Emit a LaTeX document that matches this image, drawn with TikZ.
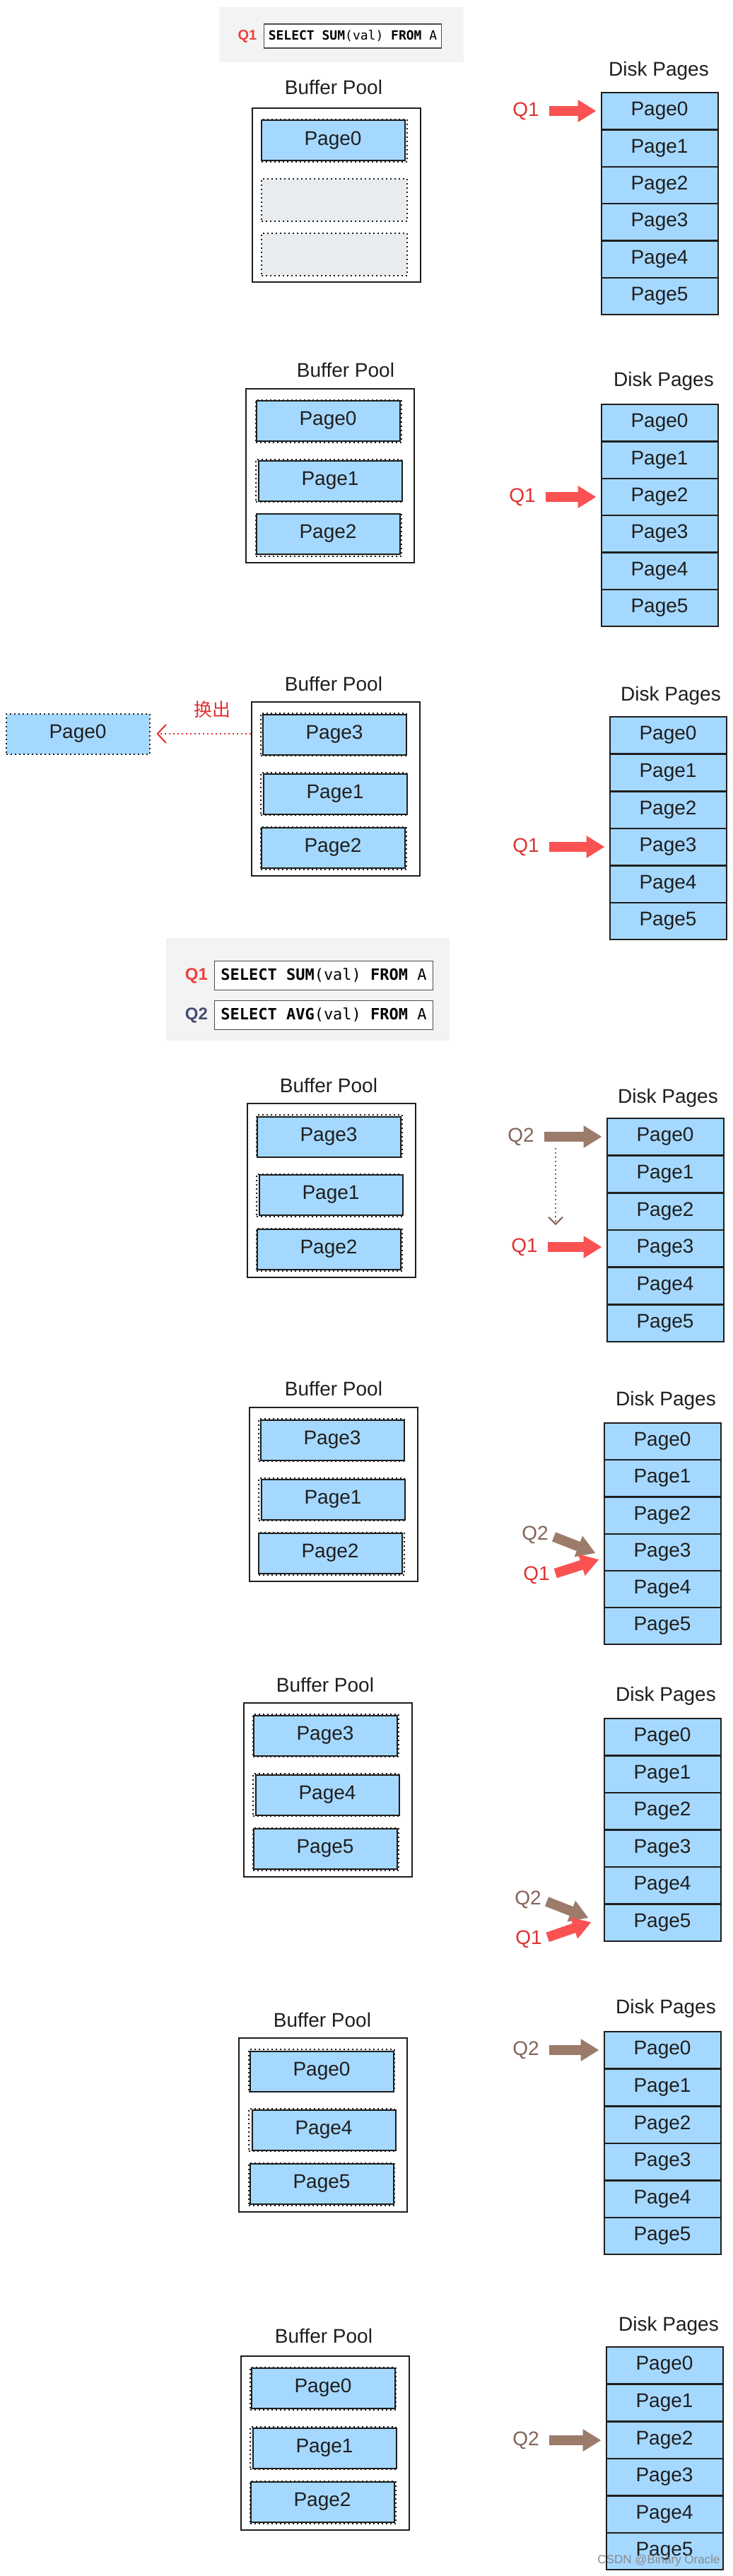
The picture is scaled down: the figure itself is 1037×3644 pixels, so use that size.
\documentclass[tikz,border=0pt]{standalone}
\usepackage{fontspec}
\setmainfont{Liberation Sans}
\newfontfamily\sqlfont{DejaVu Sans Mono}
\newfontfamily\cjk{Noto Sans CJK SC}
\usetikzlibrary{arrows.meta,calc}
\definecolor{ink}{HTML}{1E1E1E}
\definecolor{pageblue}{HTML}{A5D8FF}
\definecolor{slotgray}{HTML}{E9ECEF}
\definecolor{qred}{HTML}{E03131}
\definecolor{qredfill}{HTML}{FA5252}
\definecolor{qbrown}{HTML}{846358}
\definecolor{qbrownfill}{HTML}{9C7B6B}
\definecolor{sqlbg}{HTML}{F3F3F3}
\definecolor{sqlred}{HTML}{F03E3E}
\definecolor{sqlslate}{HTML}{454C73}
\definecolor{wmgray}{HTML}{8A8A8A}
\tikzset{
  pooltitle/.style={text=ink, font=\fontsize{14}{16}\selectfont, inner sep=0pt},
  pool/.style={draw=ink, line width=0.8pt, fill=white, minimum width=119pt, minimum height=123pt, inner sep=0pt},
  slotbox/.style={draw=ink, line width=1pt, dash pattern=on 1pt off 2pt, fill=slotgray, minimum width=103pt, minimum height=30pt, inner sep=0pt},
  pagebox/.style={draw=ink, line width=1pt, fill=pageblue, minimum width=101.5pt, minimum height=28.5pt, inner sep=0pt, text=ink, font=\fontsize{14}{16}\selectfont},
  diskcell/.style={draw=ink, line width=1pt, fill=pageblue, minimum width=82.5pt, minimum height=26.25pt, inner sep=0pt, text=ink, font=\fontsize{14}{16}\selectfont},
  qone/.style={text=qred, font=\fontsize{14}{16}\selectfont, inner sep=0pt},
  qtwo/.style={text=qbrown, font=\fontsize{14}{16}\selectfont, inner sep=0pt},
  fat/.style={line width=7pt, -{Triangle[length=13pt,width=15pt]}, shorten <=7pt, shorten >=3pt},
  onearrow/.style={fat, draw=qredfill},
  twoarrow/.style={fat, draw=qbrownfill},
  slant/.style={shorten <=4pt, shorten >=0pt},
  evict/.style={draw=qred, line width=1pt, dash pattern=on 1pt off 2pt, -{Straight Barb[length=6pt,width=13pt]}, shorten >=4.5pt},
  follow/.style={draw=qbrown, line width=1pt, dash pattern=on 1pt off 2pt, -{Straight Barb[length=5pt,width=10pt]}},
  sqlbox/.style={draw=black!70, line width=0.7pt, fill=white, inner xsep=3pt, inner ysep=0pt, minimum height=17pt, text=black, font=\sqlfont\fontsize{9}{10}\selectfont},
  sqlboxbig/.style={sqlbox, inner xsep=4.4pt, minimum height=20.5pt, font=\sqlfont\fontsize{11}{12}\selectfont},
  sqllabel/.style={inner sep=0pt, font=\bfseries\fontsize{10}{12}\selectfont},
  wmark/.style={text=wmgray, inner sep=0pt, font=\fontsize{8.5}{10}\selectfont}
}
\begin{document}
\begin{tikzpicture}[x=0.5pt,y=-0.5pt]
  \useasboundingbox (0,0) rectangle (1037,3644);
  % query Q1
  \fill[sqlbg] (310,10) rectangle (656,88);
  \node[sqllabel, text=sqlred] (s1q) at (350,51) {Q1};
  \node[sqlbox] (s1) at (499,51) {\textbf{SELECT SUM}(val) \textbf{FROM} A};

  % step 1
  \node[pooltitle] (bpt1) at (472,123) {Buffer Pool};
  \node[pool] (bp1) at (476,276) {};
  \node[slotbox] (s1a) at (473,199) {};
  \node[slotbox] (s1b) at (473,283) {};
  \node[slotbox] (s1c) at (473,360) {};
  \node[pagebox] (p1a) at (471,199) {Page0};
  \node[pooltitle] (dpt1) at (932,100) {Disk Pages};
  \node[diskcell] (d1p0) at (933,157) {Page0};
  \node[diskcell] (d1p1) at (933,210) {Page1};
  \node[diskcell] (d1p2) at (933,262) {Page2};
  \node[diskcell] (d1p3) at (933,314) {Page3};
  \node[diskcell] (d1p4) at (933,367) {Page4};
  \node[diskcell] (d1p5) at (933,419) {Page5};
  \node[qone] (q1one) at (744,157) {Q1};
  \draw[onearrow] (q1one.east) -- (q1one.east -| d1p0.west);

  % step 2
  \node[pooltitle] (bpt2) at (489,523) {Buffer Pool};
  \node[pool] (bp2) at (467,673) {};
  \node[slotbox] (s2a) at (465,596) {};
  \node[slotbox] (s2b) at (465,680) {};
  \node[slotbox] (s2c) at (465,757) {};
  \node[pagebox] (p2a) at (464,595) {Page0};
  \node[pagebox] (p2b) at (467,680) {Page1};
  \node[pagebox] (p2c) at (464,755) {Page2};
  \node[pooltitle] (dpt2) at (939,539) {Disk Pages};
  \node[diskcell] (d2p0) at (933,598) {Page0};
  \node[diskcell] (d2p1) at (933,651) {Page1};
  \node[diskcell] (d2p2) at (933,703) {Page2};
  \node[diskcell] (d2p3) at (933,755) {Page3};
  \node[diskcell] (d2p4) at (933,808) {Page4};
  \node[diskcell] (d2p5) at (933,860) {Page5};
  \node[qone] (q2one) at (739,703) {Q1};
  \draw[onearrow] (q2one.east) -- (q2one.east -| d2p2.west);

  % step 3
  \node[pagebox, dash pattern=on 1pt off 2pt] (ev) at (110,1038) {Page0};
  \node[pooltitle] (bpt3) at (472,967) {Buffer Pool};
  \node[pool] (bp3) at (475,1116) {};
  \node[slotbox] (s3a) at (472,1039) {};
  \node[slotbox] (s3b) at (472,1123) {};
  \node[slotbox] (s3c) at (472,1200) {};
  \node[pagebox] (p3a) at (473,1039) {Page3};
  \node[pagebox] (p3b) at (474,1123) {Page1};
  \node[pagebox] (p3c) at (471,1199) {Page2};
  \node[text=qred, inner sep=0pt, font=\cjk\fontsize{13}{15}\selectfont] (out3) at (300,1004) {换出};
  \draw[evict] (bp3.west |- ev.east) -- (ev.east);
  \node[pooltitle] (dpt3) at (949,984) {Disk Pages};
  \node[diskcell] (d3p0) at (945,1040) {Page0};
  \node[diskcell] (d3p1) at (945,1093) {Page1};
  \node[diskcell] (d3p2) at (945,1146) {Page2};
  \node[diskcell] (d3p3) at (945,1198) {Page3};
  \node[diskcell] (d3p4) at (945,1251) {Page4};
  \node[diskcell] (d3p5) at (945,1303) {Page5};
  \node[qone] (q3one) at (744,1198) {Q1};
  \draw[onearrow] (q3one.east) -- (q3one.east -| d3p3.west);

  % queries Q1 and Q2
  \fill[sqlbg] (235,1327) rectangle (636,1472);
  \node[sqllabel, text=sqlred, font=\bfseries\fontsize{12}{14}\selectfont] (s4q) at (278,1380) {Q1};
  \node[sqlboxbig] (s4) at (458,1380) {\textbf{SELECT SUM}(val) \textbf{FROM} A};
  \node[sqllabel, text=sqlslate, font=\bfseries\fontsize{12}{14}\selectfont] (s5q) at (278,1436) {Q2};
  \node[sqlboxbig] (s5) at (458,1436) {\textbf{SELECT AVG}(val) \textbf{FROM} A};

  % step 4
  \node[pooltitle] (bpt4) at (465,1535) {Buffer Pool};
  \node[pool] (bp4) at (469,1684) {};
  \node[slotbox] (s4a) at (466,1607) {};
  \node[slotbox] (s4b) at (466,1691) {};
  \node[slotbox] (s4c) at (466,1768) {};
  \node[pagebox] (p4a) at (465,1608) {Page3};
  \node[pagebox] (p4b) at (468,1690) {Page1};
  \node[pagebox] (p4c) at (465,1767) {Page2};
  \node[pooltitle] (dpt4) at (945,1553) {Disk Pages};
  \node[diskcell] (d4p0) at (941,1608) {Page0};
  \node[diskcell] (d4p1) at (941,1661) {Page1};
  \node[diskcell] (d4p2) at (941,1714) {Page2};
  \node[diskcell] (d4p3) at (941,1766) {Page3};
  \node[diskcell] (d4p4) at (941,1819) {Page4};
  \node[diskcell] (d4p5) at (941,1872) {Page5};
  \node[qtwo] (q4two) at (737,1608) {Q2};
  \node[qone] (q4one) at (742,1764) {Q1};
  \draw[twoarrow] (q4two.east) -- (q4two.east -| d4p0.west);
  \draw[onearrow] (q4one.east) -- (q4one.east -| d4p3.west);
  \coordinate (m4a) at (786,1624);
  \coordinate (m4b) at (786,1733);
  \draw[follow] (m4a) -- (m4b);

  % step 5
  \node[pooltitle] (bpt5) at (472,1964) {Buffer Pool};
  \node[pool] (bp5) at (472,2114) {};
  \node[slotbox] (s5a) at (469,2037) {};
  \node[slotbox] (s5b) at (469,2121) {};
  \node[slotbox] (s5c) at (469,2198) {};
  \node[pagebox] (p5a) at (470,2037) {Page3};
  \node[pagebox] (p5b) at (471,2121) {Page1};
  \node[pagebox] (p5c) at (467,2197) {Page2};
  \node[pooltitle] (dpt5) at (942,1981) {Disk Pages};
  \node[diskcell] (d5p0) at (937,2039) {Page0};
  \node[diskcell] (d5p1) at (937,2091) {Page1};
  \node[diskcell] (d5p2) at (937,2144) {Page2};
  \node[diskcell] (d5p3) at (937,2196) {Page3};
  \node[diskcell] (d5p4) at (937,2248) {Page4};
  \node[diskcell] (d5p5) at (937,2300) {Page5};
  \node[qtwo] (q5two) at (757,2171) {Q2};
  \node[qone] (q5one) at (759,2228) {Q1};
  \draw[twoarrow, slant] (q5two.east) -- ($(d5p3.west)+(-11,1)$);
  \draw[onearrow, slant] (q5one.east) -- ($(d5p3.west)+(-6,10)$);

  % step 6
  \node[pooltitle] (bpt6) at (460,2383) {Buffer Pool};
  \node[pool] (bp6) at (464,2532) {};
  \node[slotbox] (s6a) at (461,2455) {};
  \node[slotbox] (s6b) at (461,2539) {};
  \node[slotbox] (s6c) at (461,2616) {};
  \node[pagebox] (p6a) at (460,2455) {Page3};
  \node[pagebox] (p6b) at (463,2539) {Page4};
  \node[pagebox] (p6c) at (460,2615) {Page5};
  \node[pooltitle] (dpt6) at (942,2399) {Disk Pages};
  \node[diskcell] (d6p0) at (937,2457) {Page0};
  \node[diskcell] (d6p1) at (937,2510) {Page1};
  \node[diskcell] (d6p2) at (937,2562) {Page2};
  \node[diskcell] (d6p3) at (937,2615) {Page3};
  \node[diskcell] (d6p4) at (937,2667) {Page4};
  \node[diskcell] (d6p5) at (937,2720) {Page5};
  \node[qtwo] (q6two) at (747,2687) {Q2};
  \node[qone] (q6one) at (748,2743) {Q1};
  \draw[twoarrow, slant] (q6two.east) -- ($(d6p5.west)+(-21,-7)$);
  \draw[onearrow, slant] (q6one.east) -- ($(d6p5.west)+(-17,-1)$);

  % step 7
  \node[pooltitle] (bpt7) at (456,2857) {Buffer Pool};
  \node[pool] (bp7) at (457,3006) {};
  \node[slotbox] (s7a) at (455,2929) {};
  \node[slotbox] (s7b) at (455,3013) {};
  \node[slotbox] (s7c) at (455,3090) {};
  \node[pagebox] (p7a) at (455,2930) {Page0};
  \node[pagebox] (p7b) at (458,3013) {Page4};
  \node[pagebox] (p7c) at (455,3089) {Page5};
  \node[pooltitle] (dpt7) at (942,2841) {Disk Pages};
  \node[diskcell] (d7p0) at (937,2900) {Page0};
  \node[diskcell] (d7p1) at (937,2953) {Page1};
  \node[diskcell] (d7p2) at (937,3006) {Page2};
  \node[diskcell] (d7p3) at (937,3058) {Page3};
  \node[diskcell] (d7p4) at (937,3111) {Page4};
  \node[diskcell] (d7p5) at (937,3163) {Page5};
  \node[qtwo] (q7two) at (744,2900) {Q2};
  \draw[twoarrow] (q7two.east) -- (q7two.east -| d7p0.west);

  % step 8
  \node[pooltitle] (bpt8) at (458,3304) {Buffer Pool};
  \node[pool] (bp8) at (460,3456) {};
  \node[slotbox] (s8a) at (457,3379) {};
  \node[slotbox] (s8b) at (457,3463) {};
  \node[slotbox] (s8c) at (457,3540) {};
  \node[pagebox] (p8a) at (457,3378) {Page0};
  \node[pagebox] (p8b) at (459,3463) {Page1};
  \node[pagebox] (p8c) at (456,3539) {Page2};
  \node[pooltitle] (dpt8) at (946,3290) {Disk Pages};
  \node[diskcell] (d8p0) at (940,3346) {Page0};
  \node[diskcell] (d8p1) at (940,3399) {Page1};
  \node[diskcell] (d8p2) at (940,3452) {Page2};
  \node[diskcell] (d8p3) at (940,3504) {Page3};
  \node[diskcell] (d8p4) at (940,3557) {Page4};
  \node[diskcell] (d8p5) at (940,3609) {Page5};
  \node[qtwo] (q8two) at (744,3452) {Q2};
  \draw[twoarrow] (q8two.east) -- (q8two.east -| d8p2.west);

  \node[wmark] (wm) at (932,3622) {CSDN @Binary Oracle};
\end{tikzpicture}
\end{document}
